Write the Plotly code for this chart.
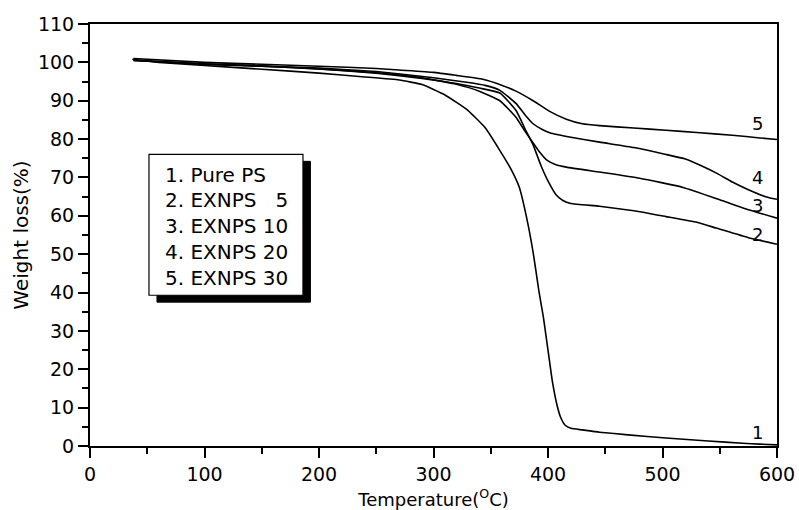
import plotly.graph_objects as go

# ---- data (Temperature in °C, weight in %) ----
t_ps = [37, 60, 100, 150, 200, 240, 270, 290, 310, 330, 345, 358, 368, 375, 381, 387,
        392, 396, 400, 404, 408, 411, 415, 420, 430, 445, 470, 503, 540, 570, 585, 600]
w_ps = [100.8, 100.0, 99.2, 98.2, 97.2, 96.2, 95.4, 94.2, 91.5, 87.5, 83.0, 77.0, 72.0, 67.4, 60.0, 50.5,
        40.5, 33.5, 25.0, 16.5, 10.5, 7.5, 5.4, 4.6, 4.2, 3.6, 2.9, 2.1, 1.3, 0.7, 0.5, 0.3]

t_5 = [38, 100, 150, 200, 250, 290, 320, 340, 358, 372, 381, 387, 394, 401, 407, 413,
       420, 445, 475, 503, 530, 547, 575, 600]
w_5 = [100.5, 99.5, 99.0, 98.3, 97.2, 95.8, 94.5, 93.3, 92.0, 87.5, 82.0, 78.5, 73.0, 68.5, 65.5, 64.0,
       63.2, 62.5, 61.3, 59.8, 58.3, 56.8, 54.3, 52.6]

t_10 = [38, 100, 150, 200, 250, 290, 320, 340, 358, 372, 380, 387, 393, 399, 407, 416,
        445, 480, 518, 550, 575, 600]
w_10 = [100.5, 99.5, 99.0, 98.3, 97.3, 96.0, 94.3, 92.5, 90.0, 85.7, 82.0, 79.0, 76.5, 74.5, 73.3, 72.7,
        71.4, 69.8, 67.4, 64.2, 61.6, 59.4]

t_20 = [38, 100, 150, 200, 250, 300, 329, 345, 358, 372, 380, 387, 395, 402, 420, 445,
        475, 503, 520, 532, 548, 561, 575, 590, 600]
w_20 = [100.6, 99.6, 99.1, 98.5, 97.6, 96.0, 94.8, 94.0, 92.7, 89.3, 86.3, 84.0, 82.5, 81.6, 80.5, 79.2,
        77.8, 76.0, 74.8, 73.3, 71.0, 68.8, 66.8, 65.0, 64.3]

t_30 = [38, 100, 150, 200, 250, 270, 300, 320, 343, 360, 372, 387, 401, 416, 430, 445,
        475, 503, 530, 561, 585, 600]
w_30 = [101.0, 100.0, 99.5, 99.0, 98.4, 98.0, 97.4, 96.6, 95.6, 94.0, 92.5, 90.0, 87.3, 85.2, 84.0, 83.5,
        82.9, 82.3, 81.7, 81.0, 80.3, 79.9]

series_t = [t_ps, t_5, t_10, t_20, t_30]
series_w = [w_ps, w_5, w_10, w_20, w_30]
curve_labels = ["1", "2", "3", "4", "5"]
legend_lines = ["1. Pure PS", "2. EXNPS\u00a0\u00a0\u00a05", "3. EXNPS 10", "4. EXNPS 20", "5. EXNPS 30"]

x_ticks = [0, 100, 200, 300, 400, 500, 600]
y_ticks = [0, 10, 20, 30, 40, 50, 60, 70, 80, 90, 100, 110]

FONT = "DejaVu Sans, sans-serif"

fig = go.Figure()
for t, w, lab in zip(series_t, series_w, curve_labels):
    fig.add_trace(go.Scatter(x=t, y=w, mode="lines", name=lab,
                             line=dict(color="black", width=1.6, shape="spline", smoothing=0.4),
                             showlegend=False))

# curve end labels
label_pos = {"1": (583, 3.6), "2": (583, 55.2), "3": (583, 62.6), "4": (583, 70.0), "5": (583, 84.0)}
for lab in curve_labels:
    x0, y0 = label_pos[lab]
    fig.add_annotation(x=x0, y=y0, text=lab, showarrow=False, xref="x", yref="y",
                       font=dict(family=FONT, size=18, color="black"))

# legend box with shadow (data coords)
fig.add_shape(type="rect", xref="x", yref="y", x0=58.5, x1=192.5, y0=37.5, y1=74.2,
              fillcolor="black", line=dict(color="black", width=1), layer="above")
fig.add_shape(type="rect", xref="x", yref="y", x0=51.5, x1=186.0, y0=39.3, y1=76.0,
              fillcolor="white", line=dict(color="black", width=1.2), layer="above")
leg_y = [70.6, 64.0, 57.3, 50.6, 43.9]
for txt, yy in zip(legend_lines, leg_y):
    fig.add_annotation(x=64.0, y=yy, text=txt, showarrow=False, xref="x", yref="y",
                       xanchor="left", yanchor="middle",
                       font=dict(family=FONT, size=20, color="black"))

axis_common = dict(showgrid=False, zeroline=False, showline=True, linecolor="black",
                   linewidth=2, mirror=True, ticks="outside", tickcolor="black",
                   tickwidth=2, ticklen=10, automargin=False,
                   tickfont=dict(family=FONT, size=19, color="black"))

fig.update_xaxes(range=[0, 600], tickvals=x_ticks, ticktext=[str(v) for v in x_ticks],
                 minor=dict(dtick=50, ticks="outside", ticklen=6, tickwidth=2, tickcolor="black"),
                 title=dict(text="Temperature(<sup>O</sup>C)", standoff=12,
                            font=dict(family=FONT, size=18, color="black")),
                 **axis_common)
fig.update_yaxes(range=[0, 110], tickvals=y_ticks, ticktext=[str(v) for v in y_ticks],
                 minor=dict(dtick=5, ticks="outside", ticklen=6, tickwidth=2, tickcolor="black"),
                 title=dict(text="Weight loss(%)", standoff=4,
                            font=dict(family=FONT, size=20, color="black")),
                 **axis_common)

fig.update_layout(width=799, height=510, margin=dict(l=90, r=22, t=24, b=64),
                  paper_bgcolor="white", plot_bgcolor="white")

fig.write_html("out.html")
